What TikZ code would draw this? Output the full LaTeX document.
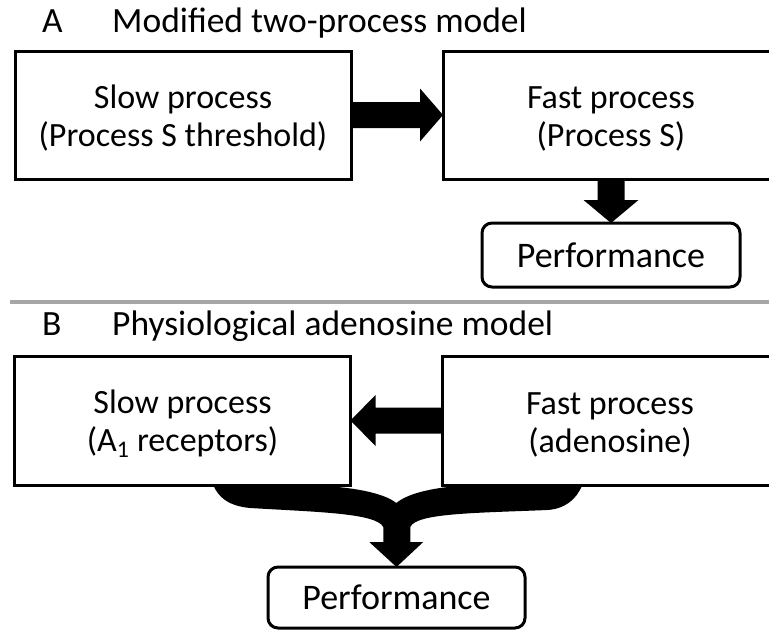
\documentclass[tikz,border=0pt]{standalone}
\usepackage{fontspec}
\setmainfont{Carlito}
\usetikzlibrary{calc}

\tikzset{
  procbox/.style={draw, line width=3pt, rectangle, inner sep=0pt, outer sep=0pt,
    minimum width=336pt, minimum height=128pt, align=center, text height=68pt,
    font=\fontsize{34}{38}\selectfont},
  perfbox/.style={draw, line width=3pt, rectangle, rounded corners=10pt, inner sep=0pt,
    outer sep=0pt, minimum width=258pt, minimum height=64pt,
    font=\fontsize{36}{40}\selectfont},
  heading/.style={anchor=base west, inner sep=0pt, font=\fontsize{35.5}{40}\selectfont},
  fatarrow/.style={fill=black, draw=none},
  divider/.style={draw=black!35, line width=4pt}
}

\begin{document}
\begin{tikzpicture}[x=1pt, y=-1pt]
  \path[use as bounding box, clip] (0,0) rectangle (769,630);

  % ---- Panel A ----
  \node[heading] (labA) at (42,32) {A};
  \node[heading] (titA) at (112,32) {Modified two-process model};

  \node[procbox] (a1) at (183,115) {Slow process\\(Process S threshold)};
  \node[procbox] (a2) at (611,115) {Fast process\\(Process S)};
  \node[perfbox] (pa) at (611,255) {Performance};

  % slow -> fast
  \fill[fatarrow] ($(a1.east)+(0,-13)$) -- ($(a2.west)+(-23,-13)$)
    -- ($(a2.west)+(-23,-26.5)$) -- (a2.west) -- ($(a2.west)+(-23,26.5)$)
    -- ($(a2.west)+(-23,13)$) -- ($(a1.east)+(0,13)$) -- cycle;

  % fast -> performance
  \fill[fatarrow] ($(a2.south)+(-13.5,0)$) -- ($(pa.north)+(-13.5,-23)$)
    -- ($(pa.north)+(-27.5,-23)$) -- (pa.north) -- ($(pa.north)+(27.5,-23)$)
    -- ($(pa.north)+(13.5,-23)$) -- ($(a2.south)+(13.5,0)$) -- cycle;

  % ---- divider ----
  \coordinate (divL) at (10,302);
  \coordinate (divR) at (790,302);
  \draw[divider] (divL) -- (divR);

  % ---- Panel B ----
  \node[heading] (labB) at (42,335) {B};
  \node[heading] (titB) at (112,335) {Physiological adenosine model};

  \node[procbox, minimum height=129pt] (b1) at (182.5,420.5) {Slow process\\(A\textsubscript{1} receptors)};
  \node[procbox, minimum height=129pt] (b2) at (610,420.5) {Fast process\\(adenosine)};
  \node[perfbox, minimum width=257pt, minimum height=61pt] (pb) at (396.5,597.5) {Performance};

  % fast -> slow
  \fill[fatarrow] ($(b2.west)+(0,-13)$) -- ($(b1.east)+(25,-13)$)
    -- ($(b1.east)+(25,-25.5)$) -- (b1.east) -- ($(b1.east)+(25,25.5)$)
    -- ($(b1.east)+(25,13)$) -- ($(b2.west)+(0,13)$) -- cycle;

  % both processes merge into performance
  \coordinate (m) at ($(b1.south east)!0.5!(b2.south west)$);
  \begin{scope}[shift={(m)}]
    \fill[fatarrow] (-183,0) -- (-93,0)
      .. controls (-45,1) and (-12,8) .. (0,18)
      .. controls (12,8) and (40,1) .. (82,0)
      -- (186,0)
      .. controls (180,15) and (168,24) .. (151,25)
      .. controls (80,28) and (20,28) .. (14,42)
      -- (14,57) -- (27,57) -- (pb.north) -- (-27,57) -- (-13,57) -- (-13,42)
      .. controls (-20,28) and (-80,27) .. (-146,23)
      .. controls (-168,21) and (-178,12) .. (-183,0) -- cycle;
  \end{scope}
\end{tikzpicture}
\end{document}
